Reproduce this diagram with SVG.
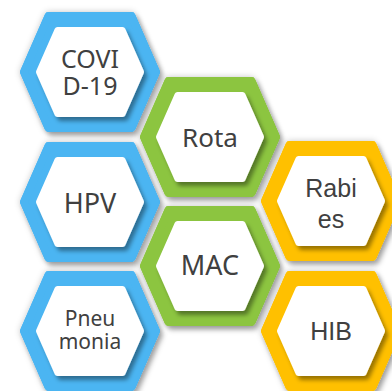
<svg xmlns="http://www.w3.org/2000/svg" xmlns:xlink="http://www.w3.org/1999/xlink" width="392" height="391" viewBox="0 0 392 391">
<style>
.t{font-family:"Noto Sans","Open Sans",sans-serif;font-size:25px;fill:#404040;text-anchor:middle}
.a{font-family:"Liberation Sans",Arial,sans-serif;font-size:25px;fill:#404040;text-anchor:middle}
.s{font-size:21px}
.l{font-size:27px}
.blue{fill:#4BB5F2;stroke:#4BB5F2}
.green{fill:#8CC540;stroke:#8CC540}
.yellow{fill:#FFC000;stroke:#FFC000}
.o{stroke-width:8;stroke-linejoin:round;filter:url(#so)}
.i{fill:#fff;stroke:#fff;stroke-width:6;stroke-linejoin:round;filter:url(#si)}
</style>
<defs>
<path id="ho" d="M-66,0 L-41.5,-56 L41.5,-56 L66,0 L41.5,56 L-41.5,56Z"/>
<path id="hi" d="M-51,0 L-32.5,-42 L32.5,-42 L51,0 L32.5,42 L-32.5,42Z"/>
<filter id="so" x="-30%" y="-30%" width="160%" height="160%">
<feDropShadow dx="0" dy="0" stdDeviation="3" flood-color="#000" flood-opacity="0.22" result="g"/>
<feDropShadow in="SourceGraphic" dx="3" dy="4" stdDeviation="2.5" flood-color="#000" flood-opacity="0.3" result="d"/>
<feMerge><feMergeNode in="g"/><feMergeNode in="d"/></feMerge>
</filter>
<filter id="si" x="-30%" y="-30%" width="160%" height="160%">
<feDropShadow dx="3" dy="4" stdDeviation="2" flood-color="#000" flood-opacity="0.4"/>
</filter>
</defs>
<rect width="392" height="391" fill="#fff"/>
<g id="covid" transform="translate(90,72)">
<use xlink:href="#ho" class="blue o"/><use xlink:href="#hi" class="i"/>
<text class="t" x="0" y="-4">COVI</text><text class="t" x="0" y="23">D-19</text>
</g>
<g id="hpv" transform="translate(90,202)">
<use xlink:href="#ho" class="blue o"/><use xlink:href="#hi" class="i"/>
<text class="t l" x="0" y="11">HPV</text>
</g>
<g id="pneumonia" transform="translate(90,331)">
<use xlink:href="#ho" class="blue o"/><use xlink:href="#hi" class="i"/>
<text class="t s" x="0" y="-5">Pneu</text><text class="t s" x="0" y="18">monia</text>
</g>
<g id="rota" transform="translate(210,137)">
<use xlink:href="#ho" class="green o"/><use xlink:href="#hi" class="i"/>
<text class="t" style="font-size:26px" x="0" y="10">Rota</text>
</g>
<g id="mac" transform="translate(210,266)">
<use xlink:href="#ho" class="green o"/><use xlink:href="#hi" class="i"/>
<text class="t l" x="0" y="9">MAC</text>
</g>
<g id="rabies" transform="translate(331,201)">
<use xlink:href="#ho" class="yellow o"/><use xlink:href="#hi" class="i"/>
<text class="a" x="0" y="-4">Rabi</text><text class="a" x="0" y="27">es</text>
</g>
<g id="hib" transform="translate(331,331)">
<use xlink:href="#ho" class="yellow o"/><use xlink:href="#hi" class="i"/>
<text class="a" x="0" y="9">HIB</text>
</g>
<g id="connectors"></g>
</svg>
